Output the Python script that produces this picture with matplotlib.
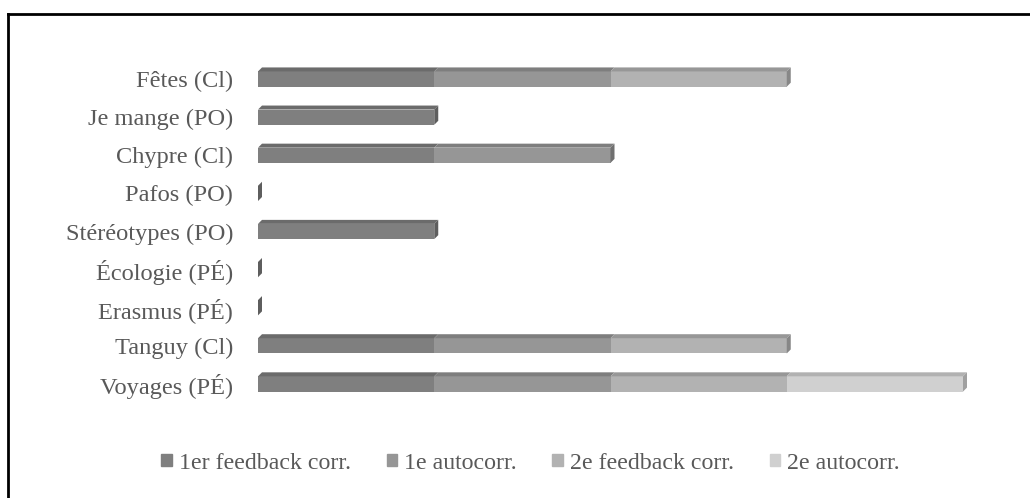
import matplotlib.pyplot as plt
from matplotlib.patches import Polygon, Patch
from matplotlib.lines import Line2D

# categories listed from bottom to top
categories = ['Voyages (PÉ)', 'Tanguy (Cl)', 'Erasmus (PÉ)', 'Écologie (PÉ)',
              'Stéréotypes (PO)', 'Pafos (PO)', 'Chypre (Cl)', 'Je mange (PO)', 'Fêtes (Cl)']
feedback1 = [1, 1, 0, 0, 1, 0, 1, 1, 1]
autocorr1 = [1, 1, 0, 0, 0, 0, 1, 0, 1]
feedback2 = [1, 1, 0, 0, 0, 0, 0, 0, 1]
autocorr2 = [1, 0, 0, 0, 0, 0, 0, 0, 0]
series_names = ['1er feedback corr.', '1e autocorr.', '2e feedback corr.', '2e autocorr.']

series = [feedback1, autocorr1, feedback2, autocorr2]
front = ['#7f7f7f', '#969696', '#b2b2b2', '#d0d0d0']
top = ['#6b6b6b', '#7e7e7e', '#979797', '#b1b1b1']
side = ['#5e5e5e', '#707070', '#878787', '#a0a0a0']
txt = '#595959'

plt.rcParams['font.family'] = ['Liberation Serif', 'DejaVu Serif']

W, H = 1030, 498
fig = plt.figure(figsize=(W / 100, H / 100), dpi=100)
ax_l, ax_r, ax_t, ax_b = 258, 963, 60, 403
ax = fig.add_axes([ax_l / W, (H - ax_b) / H, (ax_r - ax_l) / W, (ax_b - ax_t) / H])
ax.set_xlim(0, 4)
ax.set_ylim(-0.5, len(categories) - 0.5)

# depth of the pseudo-3D faces in pixels -> data units
depth = 4
dx = depth * 4 / (ax_r - ax_l)
dy = depth * len(categories) / (ax_b - ax_t)
h = 0.4

ys = range(len(categories))
lefts = [0] * len(categories)
for s, vals in enumerate(series):
    ax.barh(ys, vals, left=lefts, height=h, color=front[s], linewidth=0)
    for y, l, v in zip(ys, lefts, vals):
        if v > 0:
            yt = y + h / 2
            ax.add_patch(Polygon([(l, yt), (l + v, yt), (l + v + dx, yt + dy), (l + dx, yt + dy)],
                                 closed=True, color=top[s], linewidth=0, clip_on=False))
    lefts = [l + v for l, v in zip(lefts, vals)]

# side face at the end of each bar
for y in ys:
    total = lefts[y]
    last = 0
    for s, vals in enumerate(series):
        if vals[y] > 0:
            last = s
    ax.add_patch(Polygon([(total, y - h / 2), (total, y + h / 2),
                          (total + dx, y + h / 2 + dy), (total + dx, y - h / 2 + dy)],
                         closed=True, color=side[last], linewidth=0, clip_on=False))

ax.set_yticks(list(ys))
ax.set_yticklabels(categories, fontsize=17.6, color=txt)
ax.tick_params(axis='y', length=0, pad=18)
ax.set_xticks([])
for sp in ax.spines.values():
    sp.set_visible(False)

handles = [Patch(color=c) for c in front]
fig.legend(handles, series_names, loc='center', bbox_to_anchor=(0.515, 1 - 463 / H), ncol=4,
           frameon=False, fontsize=17.2, labelcolor=txt, handlelength=0.45, handleheight=0.45,
           handletextpad=0.27, columnspacing=1.5)

# outer frame (top and left edges visible)
fig.add_artist(Line2D([8 / W, 1], [1 - 14 / H, 1 - 14 / H], color='black', lw=2))
fig.add_artist(Line2D([8 / W, 8 / W], [0, 1 - 14 / H], color='black', lw=2))

fig.savefig('out.png', dpi=100)
